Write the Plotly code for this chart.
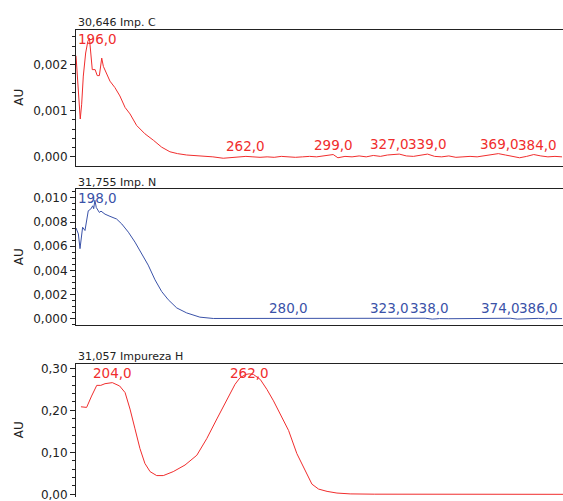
import numpy as np
import plotly.graph_objects as go

# ---------------- data ----------------
# Panel 1: 30,646 Imp. C  (AU)
c_nm = [190.0, 190.6, 191.3, 191.8, 192.4, 193.1, 194.1, 195.0, 195.7, 196.4, 196.9, 198.1,
        199.0, 199.9, 200.9, 201.6, 203.0, 204.4, 206.5, 208.6, 210.8, 212.9, 215.7, 219.2,
        222.8, 226.3, 229.8, 233.0, 236.9, 240.0, 243.9, 248.0, 252.4, 256.0, 259.0, 262.0,
        265, 268, 271, 274, 277, 280, 283, 286, 289, 292, 295, 299, 301, 304, 307, 310, 313,
        316, 319, 322, 327, 330, 333, 336, 339, 342, 345, 348, 351, 354, 357, 360, 363, 366,
        369, 372, 375, 378, 381, 384, 387, 390, 393, 396]
c_au = [2.19, 1.75, 1.18, 0.82, 1.14, 1.75, 2.25, 2.50, 2.57, 2.25, 1.89, 1.89,
        1.76, 1.76, 2.14, 1.96, 1.79, 1.64, 1.50, 1.32, 1.07, 0.93, 0.68, 0.50,
        0.36, 0.21, 0.11, 0.07, 0.04, 0.03, 0.015, 0.0, -0.03, -0.01, 0.0, 0.01,
        0.0, -0.01, 0.0, -0.01, 0.01, 0.0, -0.01, 0.0, 0.01, 0.0, 0.02, 0.05, -0.02, 0.01,
        0.0, 0.02, 0.0, 0.03, 0.01, 0.04, 0.06, 0.02, 0.01, 0.03, 0.06, 0.01, 0.0, 0.02,
        -0.01, 0.0, 0.01, 0.0, 0.02, 0.04, 0.07, 0.04, 0.01, -0.02, 0.01, 0.05, 0.02, 0.0,
        0.01, 0.0]
c_au = [v * 1e-3 for v in c_au]
c_peaks = [196.0, 262.0, 299.0, 327.0, 339.0, 369.0, 384.0]
c_labels = ["196,0", "262,0", "299,0", "327,0", "339,0", "369,0", "384,0"]

# Panel 2: 31,755 Imp. N  (AU)
n_nm = [190.0, 191.0, 191.7, 192.4, 192.8, 193.8, 194.5, 195.2, 196.2, 197.1, 197.5, 198.0,
        198.6, 199.2, 199.9, 200.6, 202.3, 204.4, 207.2, 209.4, 212.2, 215.0, 217.8, 220.6,
        223.5, 226.3, 229.1, 232.7, 236.9, 242.5, 248.2, 258.1,
        262, 268, 272, 276, 280, 284, 288, 292, 296, 300, 304, 308, 312, 316, 320, 323, 326,
        330, 334, 338, 341, 344, 348, 352, 356, 360, 364, 368, 372, 374, 377, 380, 383, 386,
        389, 392, 396]
n_au = [7.51, 7.02, 5.80, 6.75, 7.57, 7.30, 8.11, 8.93, 9.06, 9.34, 9.10, 9.80,
        9.20, 9.00, 8.79, 8.90, 8.65, 8.47, 8.25, 7.84, 7.16, 6.34, 5.39, 4.44,
        3.22, 2.26, 1.58, 0.90, 0.49, 0.14, 0.03, 0.03,
        0.03, 0.02, 0.04, 0.02, 0.06, 0.03, 0.01, 0.03, 0.02, 0.0, 0.02, 0.01, 0.03, 0.02,
        0.01, 0.04, 0.01, 0.02, 0.03, 0.05, -0.02, 0.02, 0.01, 0.02, 0.0, 0.02, 0.01, 0.02,
        0.03, 0.05, -0.02, 0.02, 0.01, 0.04, 0.01, 0.02, 0.02]
n_au = [v * 1e-3 for v in n_au]
n_peaks = [198.0, 280.0, 323.0, 338.0, 374.0, 386.0]
n_labels = ["198,0", "280,0", "323,0", "338,0", "374,0", "386,0"]

# Panel 3: 31,057 Impureza H  (AU)
h_nm = [190.7, 193.1, 195.2, 197.4, 199.1, 200.9, 204.0, 207.1, 209.4, 211.5, 213.6, 215.7,
        217.8, 220.0, 222.8, 225.6, 229.8, 234.8, 239.8, 244.0, 248.3, 252.5, 256.0, 258.1,
        260.5, 262.0, 263.8, 266.7, 269.5, 272.3, 275.9, 278.7, 282.2, 285.8, 288.6, 291.4,
        295.0, 299.2, 304.8, 315.0, 330.0, 360.0, 396.0]
h_au = [0.2085, 0.207, 0.234, 0.2595, 0.2595, 0.2635, 0.266, 0.258, 0.2423, 0.203, 0.156, 0.109,
        0.0736, 0.054, 0.0446, 0.0446, 0.054, 0.0697, 0.093, 0.1325, 0.1795, 0.2226, 0.262, 0.2776,
        0.2854, 0.2870, 0.2854, 0.2736, 0.250, 0.2226, 0.1835, 0.152, 0.097, 0.054, 0.0242, 0.0125,
        0.007, 0.003, 0.001, 0.0003, 0.0, 0.0, 0.0]
h_peaks = [204.0, 262.0]
h_labels = ["204,0", "262,0"]

titles = ["30,646 Imp. C", "31,755 Imp. N", "31,057 Impureza H"]

# ---------------- layout helpers ----------------
W, H = 563, 501
RED = "rgb(240,45,45)"
BLUE = "rgb(58,82,168)"
FONT = "DejaVu Sans"

def py(p):  # pixel row -> paper y
    return 1 - p / H

x_left = 76 / W
panels = [
    dict(nm=c_nm, au=c_au, peaks=c_peaks, labels=c_labels, color=RED,
         top=28, bot=165.6, yr=[-0.00019, 0.002756], dtick=0.001, fmt=".3f", minor=0.0002,
         xr=[190, 396.4], clamp=[True, False, False, False, False, False, False],
         xshift=[0, 0, 0, -10, 0, 1, 4], title_y=20.7),
    dict(nm=n_nm, au=n_au, peaks=n_peaks, labels=n_labels, color=BLUE,
         top=189.5, bot=327.3, yr=[-0.00054, 0.01071], dtick=0.002, fmt=".3f", minor=0.0005,
         xr=[190, 396.4], clamp=[True, False, False, False, False, False],
         xshift=[0, 0, 0, 4, -10, 0], title_y=182.7),
    dict(nm=h_nm, au=h_au, peaks=h_peaks, labels=h_labels, color=RED,
         top=366, bot=501, yr=[-0.0064, 0.3113], dtick=0.1, fmt=".2f", minor=0.02,
         xr=[188.6, 395.0], clamp=[False, True], xshift=[0, 0], title_y=358.5),
]

fig = go.Figure()
annotations = []
for i, p in enumerate(panels):
    k = "" if i == 0 else str(i + 1)
    xa, ya = "x" + k, "y" + k
    fig.add_trace(go.Scatter(x=p["nm"], y=p["au"], mode="lines", xaxis=xa, yaxis=ya,
                             line=dict(color=p["color"], width=1), hoverinfo="skip",
                             showlegend=False))
    dom = [py(p["bot"]), py(p["top"])]
    if dom[0] < 0:
        dom[0] = 0
    fig.layout["xaxis" + k] = dict(domain=[x_left, 1], range=p["xr"], anchor=ya,
                                   showline=True, linecolor="#222", linewidth=1,
                                   mirror=(i < 2), side=("top" if i == 2 else "bottom"),
                                   showticklabels=False, ticks="", showgrid=False,
                                   zeroline=False, fixedrange=True)
    fig.layout["yaxis" + k] = dict(domain=dom, range=p["yr"], anchor=xa, dtick=p["dtick"],
                                   tick0=0, tickformat=p["fmt"], ticks="outside", ticklen=5,
                                   tickcolor="#222", showline=True, linecolor="#222",
                                   linewidth=1, showgrid=False, zeroline=False,
                                   ticklabeloverflow="allow",
                                   tickfont=dict(family=FONT, size=12, color="#222"),
                                   minor=dict(dtick=p["minor"], tick0=0, ticks="outside",
                                              ticklen=3, tickcolor="#222", showgrid=False),
                                   fixedrange=True)
    # panel title
    annotations.append(dict(text=titles[i], xref="paper", yref="paper", x=x_left,
                            y=py(p["title_y"]), xanchor="left", yanchor="middle",
                            showarrow=False, font=dict(family=FONT, size=11, color="#222")))
    # AU axis title
    annotations.append(dict(text="AU", xref="paper", yref="paper", x=19 / W,
                            y=py((p["top"] + min(p["bot"], 498.3 + 6.6)) / 2), textangle=-90,
                            xanchor="center", yanchor="middle", showarrow=False,
                            font=dict(family=FONT, size=12, color="#222")))
    # peak labels
    yv = np.interp(p["peaks"], p["nm"], p["au"])
    for j, (pk, lab) in enumerate(zip(p["peaks"], p["labels"])):
        a = dict(text=lab, showarrow=False, font=dict(family=FONT, size=13.5, color=p["color"]),
                 xshift=p["xshift"][j])
        if p["clamp"][j]:
            a.update(yref=ya + " domain", y=1, yanchor="top", yshift=1)
        else:
            a.update(yref=ya, y=float(yv[j]), yanchor="bottom", yshift=0)
        if j == 0 and i < 2:
            a.update(xref=xa + " domain", x=0, xanchor="left")
        else:
            a.update(xref=xa, x=pk, xanchor="center")
        annotations.append(a)

fig.update_layout(width=W, height=H, margin=dict(l=0, r=0, t=0, b=0),
                  paper_bgcolor="white", plot_bgcolor="white", separators=",.",
                  annotations=annotations, showlegend=False)
fig.write_html("out.html", include_plotlyjs=True, config={"displayModeBar": False})
